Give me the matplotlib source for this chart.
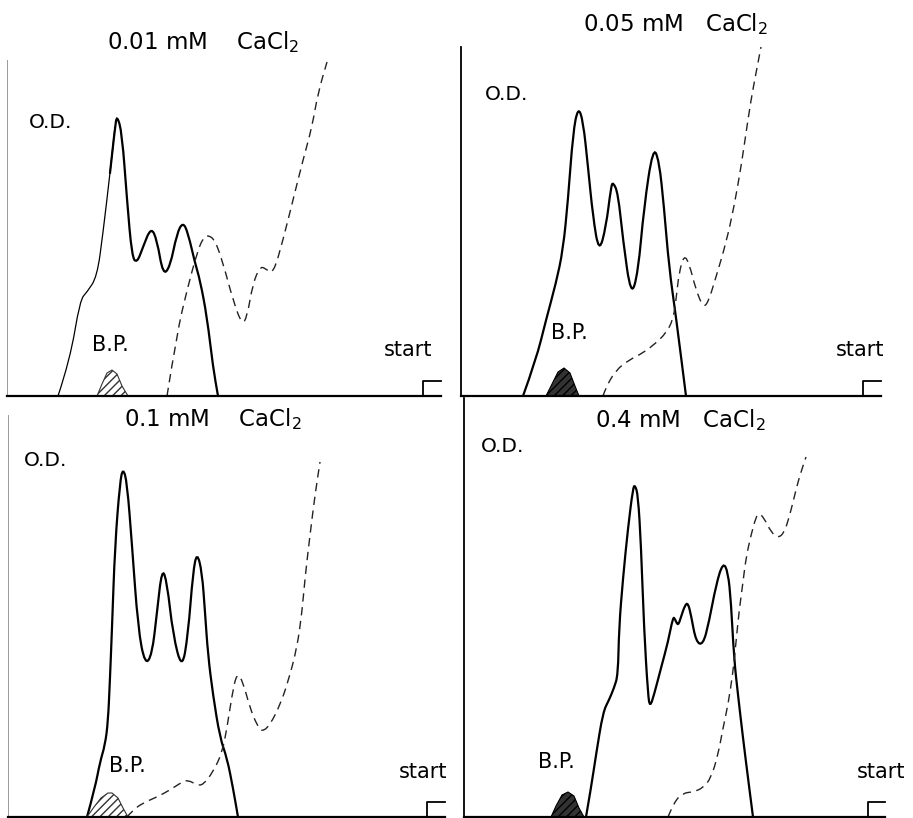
import matplotlib
matplotlib.use("Agg")
import matplotlib.pyplot as plt
from matplotlib.path import Path
from matplotlib.patches import PathPatch

# Densitometer traces.
# x = distance along the strip, y = O.D. (arbitrary units, same scale in all panels)
titles = ["0.01 mM    CaCl$_2$", "0.05 mM   CaCl$_2$", "0.1 mM    CaCl$_2$", "0.4 mM   CaCl$_2$"]

# 0.01 mM
tl_solid_x = [51, 63, 73, 80, 90, 96, 103, 108, 110, 115, 120, 125, 130, 136, 144, 150, 156, 163,
              170, 176, 181, 188, 193, 200, 206, 211]
tl_solid_y = [0, 36, 96, 104, 119, 163, 223, 269, 281, 263, 196, 139, 133, 149, 169, 156, 121, 129,
              163, 174, 163, 133, 116, 79, 29, 0]
tl_dash_x = [160, 170, 180, 190, 196, 201, 208, 216, 226, 235, 240, 246, 253, 258, 266, 276, 286,
             296, 305, 311, 320]
tl_dash_y = [0, 63, 106, 143, 158, 161, 156, 133, 96, 71, 79, 113, 129, 128, 121, 156, 196,
             236, 269, 303, 334]
tl_bp_x = [90, 95, 100, 105, 110, 115, 121]
tl_bp_y = [0, 12, 23, 26, 22, 10, 0]

# 0.05 mM
tr_solid_x = [62, 75, 85, 95, 102, 107, 112, 117, 122, 127, 132, 138, 145, 150, 152, 157, 162, 170,
              177, 183, 192, 198, 203, 208, 215, 225]
tr_solid_y = [0, 36, 76, 113, 146, 196, 263, 289, 276, 229, 179, 143, 169, 209, 214, 203, 156, 99,
              123, 189, 249, 236, 189, 129, 79, 0]
tr_dash_x = [142, 145, 155, 168, 182, 195, 205, 212, 215, 218, 223, 228, 235, 242, 247, 255, 265,
             273, 280, 285, 290, 295, 300]
tr_dash_y = [0, 9, 26, 36, 43, 53, 63, 76, 96, 123, 141, 133, 106, 89, 93, 119, 153,
             189, 229, 263, 296, 323, 349]
tr_bp_x = [85, 91, 97, 103, 109, 114, 118]
tr_bp_y = [0, 12, 24, 28, 23, 10, 0]

# 0.1 mM
bl_solid_x = [79, 87, 92, 97, 100, 102, 104, 107, 112, 115, 119, 124, 130, 137, 144, 149, 154, 159,
              165, 174, 180, 185, 189, 194, 197, 200, 205, 212, 219, 225, 230]
bl_solid_y = [0, 29, 55, 72, 95, 139, 189, 272, 335, 349, 335, 272, 189, 152, 162, 205, 249, 235,
              182, 147, 182, 245, 265, 245, 205, 162, 122, 79, 59, 29, 0]
bl_dash_x = [119, 125, 135, 149, 162, 174, 180, 189, 195, 205, 214, 219, 224, 229, 235, 242, 249,
             254, 262, 272, 280, 289, 294, 297, 302, 307, 312]
bl_dash_y = [0, 7, 14, 20, 27, 35, 37, 32, 32, 45, 64, 89, 122, 145, 135, 109, 92,
             85, 92, 112, 135, 169, 205, 239, 282, 322, 355]
bl_bp_x = [79, 86, 93, 100, 104, 110, 115, 120]
bl_bp_y = [0, 10, 19, 24, 24, 19, 9, 0]

# 0.4 mM
br_solid_x = [122, 127, 132, 139, 145, 150, 154, 155, 159, 164, 169, 171, 174, 177, 180, 184, 186,
              190, 197, 204, 209, 211, 214, 217, 221, 224, 227, 232, 239, 245, 252, 259, 264, 267,
              270, 274, 279, 284, 289]
br_solid_y = [0, 29, 62, 105, 117, 129, 142, 189, 239, 289, 329, 332, 322, 272, 189, 122, 110,
              122, 149, 175, 200, 198, 191, 200, 212, 214, 202, 175, 172, 195, 232, 255, 245, 215,
              159, 122, 79, 39, 0]
br_dash_x = [204, 210, 219, 229, 239, 247, 254, 259, 264, 269, 272, 275, 279, 282, 287, 292, 295,
             300, 307, 314, 320, 325, 330, 335, 342]
br_dash_y = [0, 15, 24, 25, 29, 39, 62, 89, 112, 145, 175, 205, 235, 259, 282, 300, 304,
             299, 285, 279, 284, 299, 319, 339, 360]
br_bp_x = [87, 92, 98, 104, 110, 115, 120]
br_bp_y = [0, 11, 22, 25, 21, 9, 0]


def smooth_path(xs, ys):
    # quadratic bezier through the midpoints, the read points act as control points
    verts = [(xs[0], ys[0])]
    codes = [Path.MOVETO]
    for k in range(1, len(xs) - 1):
        verts.append((xs[k], ys[k]))
        verts.append(((xs[k] + xs[k + 1]) / 2, (ys[k] + ys[k + 1]) / 2))
        codes += [Path.CURVE3, Path.CURVE3]
    verts.append((xs[-1], ys[-1]))
    codes.append(Path.LINETO)
    return Path(verts, codes)


W, H = 913, 818
fig = plt.figure(figsize=(W / 100, H / 100), dpi=100)
plt.rcParams["font.family"] = "DejaVu Sans"

# panel frames in pixels: left, baseline, right end, top of O.D. axis
frames = [(7, 396, 441, 60), (461, 396, 881, 47), (8, 817, 445, 415), (464, 817, 885, 398)]
solids = [(tl_solid_x, tl_solid_y), (tr_solid_x, tr_solid_y), (bl_solid_x, bl_solid_y), (br_solid_x, br_solid_y)]
dashes = [(tl_dash_x, tl_dash_y), (tr_dash_x, tr_dash_y), (bl_dash_x, bl_dash_y), (br_dash_x, br_dash_y)]
bps = [(tl_bp_x, tl_bp_y), (tr_bp_x, tr_bp_y), (bl_bp_x, bl_bp_y), (br_bp_x, br_bp_y)]
faint_axis = [True, False, True, False]
dark_bp = [False, True, False, True]
# label spots (pixels): title centre, O.D., B.P., start
title_pos = [(203, 42), (676, 24), (213, 419), (680, 420)]
od_pos = [(51, 122), (507, 94), (46, 461), (503, 446)]
bp_pos = [(110, 345), (569, 333), (127, 766), (556, 762)]
start_pos = [(408, 350), (860, 350), (423, 772), (881, 772)]
mark_x = [423, 863, 427, 868]

for i in range(4):
    x0, base, x1, top = frames[i]
    ax = fig.add_axes([x0 / W, 1 - base / H, (x1 - x0) / W, (base - top) / H])
    ax.set_xlim(0, x1 - x0)
    ax.set_ylim(0, base - top)
    ax.set_xticks([])
    ax.set_yticks([])
    for s in ["top", "right"]:
        ax.spines[s].set_visible(False)
    ax.spines["bottom"].set_linewidth(1.6)
    if faint_axis[i]:
        ax.spines["left"].set_linewidth(0.7)
        ax.spines["left"].set_color("#9a9a9a")
    else:
        ax.spines["left"].set_linewidth(1.3)
    ax.patch.set_alpha(0)

    sx, sy = solids[i]
    if i == 0:
        # the rising flank is drawn with a thin pen in this panel
        ax.add_patch(PathPatch(smooth_path(sx[:8], sy[:8]), fill=False, ec="black", lw=0.9,
                               capstyle="round", clip_on=False))
        ax.add_patch(PathPatch(smooth_path(sx[6:], sy[6:]), fill=False, ec="black", lw=1.6,
                               capstyle="round", clip_on=False))
    else:
        ax.add_patch(PathPatch(smooth_path(sx, sy), fill=False, ec="black", lw=1.6,
                               capstyle="round", clip_on=False))

    dx, dy = dashes[i]
    ax.add_patch(PathPatch(smooth_path(dx, dy), fill=False, ec="#222222", lw=1.0,
                           linestyle=(0, (6, 4)), clip_on=False))

    bx, by = bps[i]
    if dark_bp[i]:
        ax.fill_between(bx, by, 0, facecolor="#333333", edgecolor="black", hatch="////", lw=0.8)
    else:
        ax.fill_between(bx, by, 0, facecolor="white", edgecolor="#333333", hatch="////", lw=0.8)

    # start mark at the right end of the strip
    mx = mark_x[i] - x0
    ax.plot([mx, mx, x1 - x0], [0, 15, 15], color="black", lw=1.3, clip_on=False)

    tx, ty = title_pos[i]
    ax.text(tx - x0, base - ty, titles[i], ha="center", va="center", fontsize=16.5, clip_on=False)
    ox, oy = od_pos[i]
    ax.text(ox - x0, base - oy, "O.D.", ha="center", va="center", fontsize=14.5)
    px, py = bp_pos[i]
    ax.text(px - x0, base - py, "B.P.", ha="center", va="center", fontsize=15)
    stx, sty = start_pos[i]
    ax.text(stx - x0, base - sty, "start", ha="center", va="center", fontsize=15, clip_on=False)

plt.savefig("out.png", dpi=100)
